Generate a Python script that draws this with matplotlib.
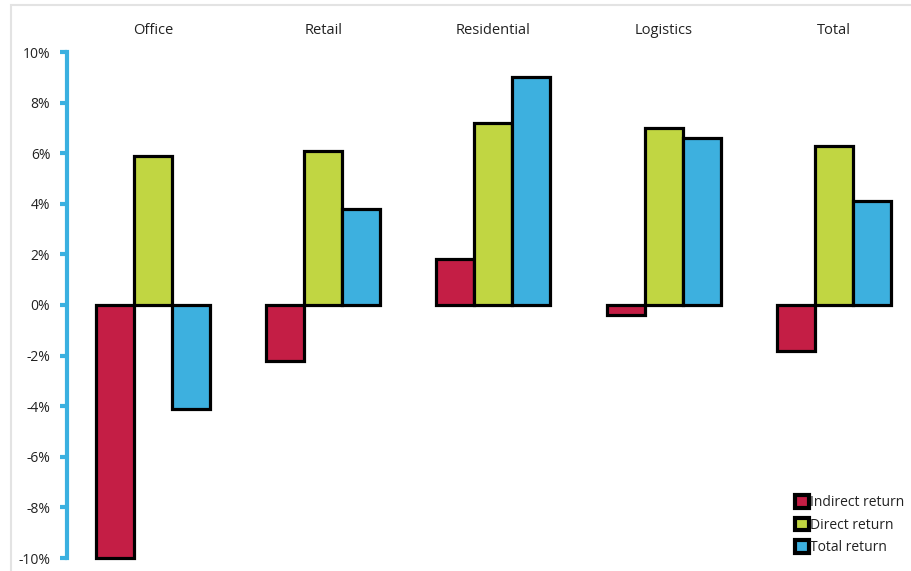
import numpy as np
import matplotlib.pyplot as plt
from matplotlib.patches import Rectangle
from matplotlib.ticker import FuncFormatter

# Returns by sector (%)
sectors = ["Office", "Retail", "Residential", "Logistics", "Total"]
indirect_return = [-10.0, -2.2, 1.8, -0.4, -1.8]
direct_return = [5.9, 6.1, 7.2, 7.0, 6.3]
total_return = [-4.1, 3.8, 9.0, 6.6, 4.1]

series_names = ["Indirect return", "Direct return", "Total return"]
series_colors = ["#C41E45", "#C1D642", "#3DB0DF"]
axis_blue = "#3AB0E0"

plt.rcParams['font.family'] = ['Open Sans', 'DejaVu Sans']

fig = plt.figure(figsize=(9.11, 5.71), dpi=100)

# light grey frame around the chart area
W, H = 911, 571
fig.patches.append(Rectangle((11 / W, -0.1), 1.1, (H - 5) / H + 0.1,
                             transform=fig.transFigure, fill=False,
                             edgecolor="#E3E3E3", linewidth=1.5, zorder=0))

ax = fig.add_axes([67 / W, 13 / H, (W - 67) / W, (558 - 52) / H])

x = np.arange(len(sectors))
bar_w = 0.2235
for i, (vals, name, col) in enumerate(zip([indirect_return, direct_return, total_return],
                                          series_names, series_colors)):
    ax.bar(x + (i - 1) * bar_w, vals, width=bar_w, color=col, edgecolor="black",
           linewidth=2.3, label=name, zorder=3, clip_on=False)

ax.set_xlim(-0.506, (W - 153) / 170 - 0.005)
ax.set_ylim(-10, 10)

# y axis: blue line with short outward ticks
for s in ["top", "right", "bottom"]:
    ax.spines[s].set_visible(False)
ax.spines["left"].set_color(axis_blue)
ax.spines["left"].set_linewidth(3)
ax.set_yticks(np.arange(-10, 11, 2))
ax.yaxis.set_major_formatter(FuncFormatter(lambda v, p: f"{v:.0f}%"))
ax.tick_params(axis="y", colors=axis_blue, length=5, width=3, direction="out",
               labelcolor="#222222", labelsize=10, pad=7)
ax.set_xticks([])

# sector labels above the plot
for xi, name in zip(x, sectors):
    ax.text(xi, 1.0 + 21 / (558 - 52), name, transform=ax.get_xaxis_transform(),
            ha="center", va="center", fontsize=10.5, color="#222222")

leg = ax.legend(loc="lower right", bbox_to_anchor=(910 / W, 10 / H),
                bbox_transform=fig.transFigure, frameon=False, fontsize=10,
                handlelength=1.0, handleheight=1.0, handletextpad=0.1,
                labelspacing=0.55, borderaxespad=0)
for h in leg.legend_handles:
    h.set_linewidth(3)
for t in leg.get_texts():
    t.set_color("#222222")

fig.savefig("out.png", dpi=100)
